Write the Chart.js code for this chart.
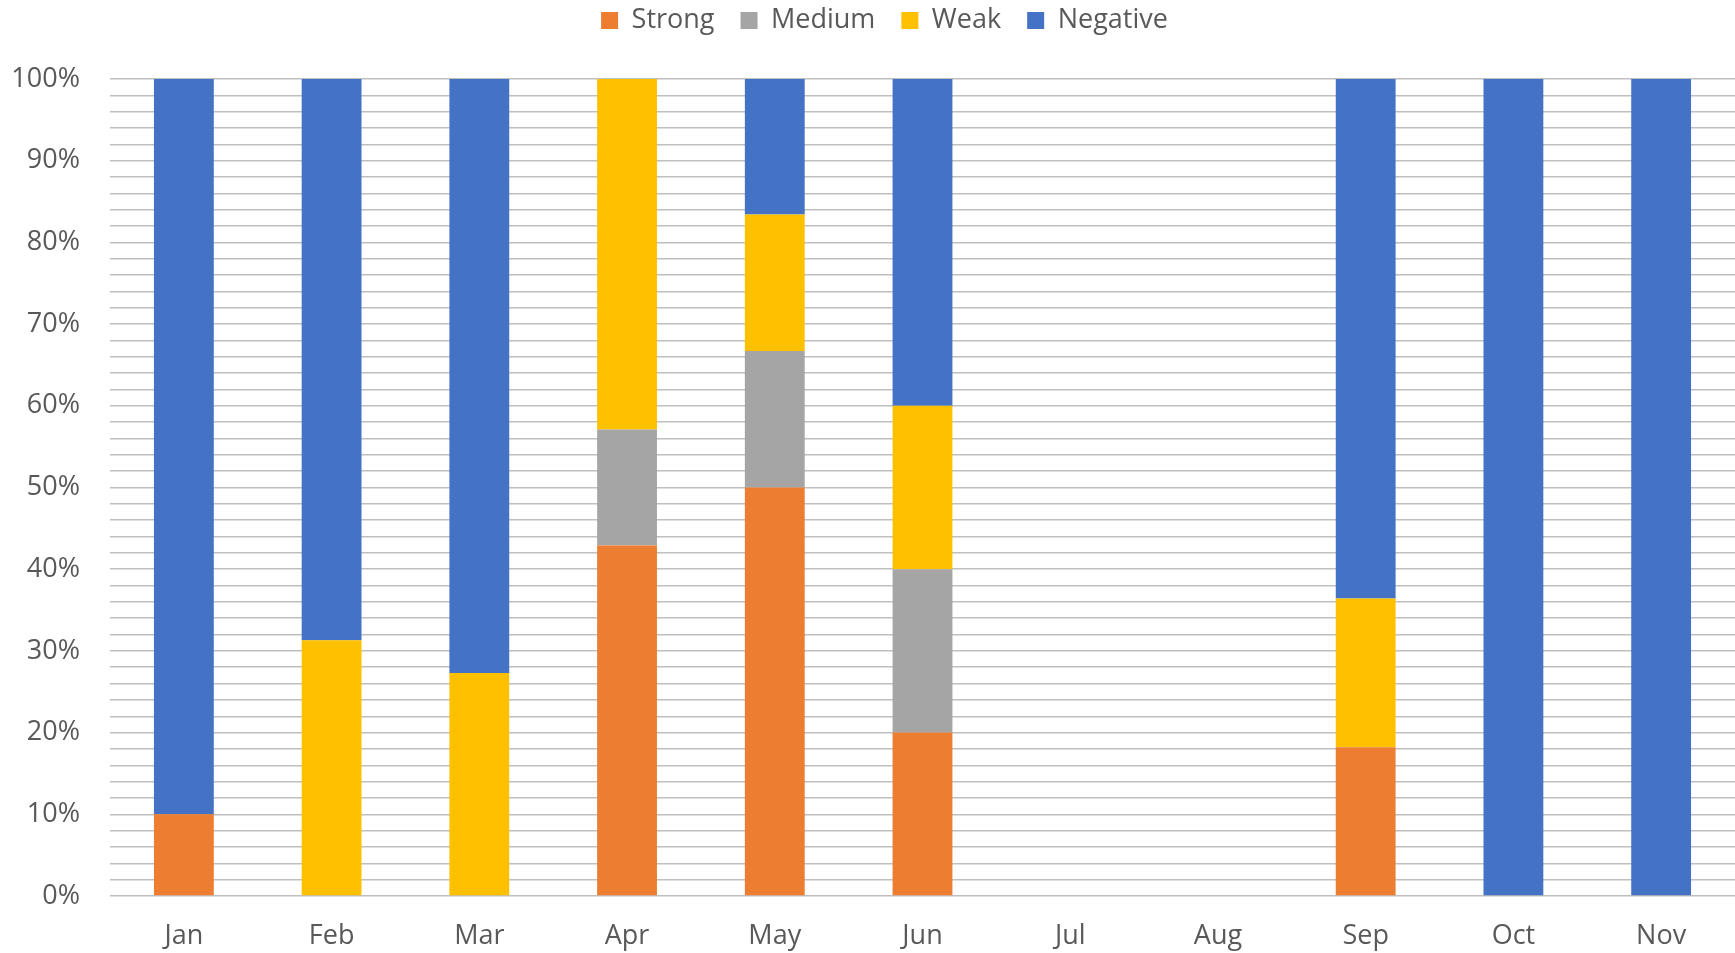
<!DOCTYPE html>
<html>
<head>
<meta charset="utf-8">
<script src="https://cdn.jsdelivr.net/npm/chart.js@4/dist/chart.umd.min.js"></script>
<style>
  html, body { margin: 0; padding: 0; background: #fff; }
  #wrap { width: 1735px; height: 953px; }
</style>
</head>
<body>
<div id="wrap"><canvas id="chart"></canvas></div>
<script>
// data (percent of each month)
const months = ["Jan", "Feb", "Mar", "Apr", "May", "Jun", "Jul", "Aug", "Sep", "Oct", "Nov"];
const strong   = [10, 0, 0, 42.9, 50, 20, 0, 0, 18.2, 0, 0];
const medium   = [0, 0, 0, 14.2, 16.7, 20, 0, 0, 0, 0, 0];
const weak     = [0, 31.3, 27.3, 42.9, 16.7, 20, 0, 0, 18.2, 0, 0];
const negative = [90, 68.7, 72.7, 0, 16.6, 40, 0, 0, 63.6, 100, 100];
const yTicks = [0, 10, 20, 30, 40, 50, 60, 70, 80, 90, 100];

const txt = "#595959";
const font = "'Open Sans', 'Noto Sans', sans-serif";

function ds(label, data, color) {
  return {
    label: label,
    data: data,
    backgroundColor: color,
    borderWidth: 0,
    categoryPercentage: 1,
    barPercentage: 0.405
  };
}

// fixed legend height, then nudge the legend up/right to sit like the reference
const legendPlace = {
  id: "legendPlace",
  beforeInit(chart) {
    const fit = chart.legend.fit;
    chart.legend.fit = function () {
      fit.bind(chart.legend)();
      this.height = 79;
    };
  },
  afterLayout(chart) {
    const lg = chart.legend;
    lg.top -= 19;
    lg.bottom -= 19;
    lg.left += 17;
    lg.right += 17;
  }
};

new Chart(document.getElementById("chart"), {
  type: "bar",
  data: {
    labels: months,
    datasets: [
      ds("Strong", strong, "#ED7D31"),
      ds("Medium", medium, "#A5A5A5"),
      ds("Weak", weak, "#FFC000"),
      ds("Negative", negative, "#4472C4")
    ]
  },
  options: {
    responsive: true,
    maintainAspectRatio: false,
    animation: false,
    layout: { padding: 0 },
    plugins: {
      legend: {
        position: "top",
        labels: {
          color: txt,
          font: { family: font, size: 27 },
          boxWidth: 17,
          boxHeight: 17,
          padding: 26
        }
      },
      tooltip: { enabled: false }
    },
    scales: {
      x: {
        stacked: true,
        afterFit(scale) { scale.height = 57; },
        grid: { display: false, drawTicks: false },
        border: { display: false },
        ticks: { color: txt, font: { family: font, size: 27 }, padding: 24 }
      },
      y: {
        stacked: true,
        min: 0,
        max: 100,
        afterFit(scale) { scale.width = 110; },
        grid: { color: "#BFBFBF", lineWidth: 1.5, drawTicks: false },
        border: { display: false },
        ticks: {
          stepSize: 2,
          autoSkip: false,
          color: txt,
          font: { family: font, size: 27 },
          padding: 30,
          callback: v => yTicks.includes(v) ? v + "%" : ""
        }
      }
    }
  },
  plugins: [legendPlace]
});
</script>
</body>
</html>
